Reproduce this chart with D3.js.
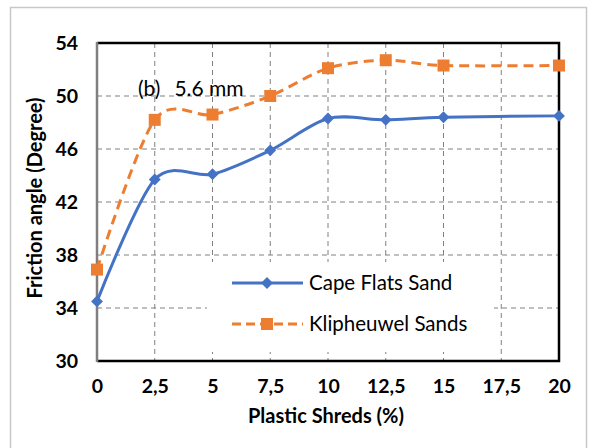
<!DOCTYPE html>
<html>
<head>
<meta charset="utf-8">
<script src="https://cdn.jsdelivr.net/npm/d3@7"></script>
<style>
  html,body{margin:0;padding:0;background:#fff;}
  svg{display:block;font-family:Lato,"Open Sans",sans-serif;}
</style>
</head>
<body>
<div id="chart"></div>
<script>
// data
var xCats = [0, 2.5, 5, 7.5, 10, 12.5, 15, 20];
var capeFlats = [34.5, 43.7, 44.1, 45.9, 48.3, 48.2, 48.4, 48.5];
var klipheuwel = [36.9, 48.2, 48.6, 50.0, 52.1, 52.7, 52.3, 52.3];
var xTicks = [0, 2.5, 5, 7.5, 10, 12.5, 15, 17.5, 20];
var yTicks = [30, 34, 38, 42, 46, 50, 54];
var seriesNames = ["Cape Flats Sand", "Klipheuwel Sands"];

var W = 590, H = 448;
var m = {top: 43, right: 31, bottom: 87, left: 97};
var width = W - m.left - m.right, height = H - m.top - m.bottom;
var FONT = "Lato, 'Open Sans', sans-serif";

var svg = d3.select("#chart").append("svg").attr("width", W).attr("height", H);

// outer chart frame
svg.append("rect").attr("x", 10.5).attr("y", 7.5).attr("width", 576).attr("height", 450)
  .attr("fill", "none").attr("stroke", "#c8c8c8").attr("stroke-width", 1.5);

var g = svg.append("g").attr("transform", "translate(" + m.left + "," + m.top + ")");

var x = d3.scaleLinear().domain([0, 20]).range([0, width]);
var y = d3.scaleLinear().domain([30, 54]).range([height, 0]);

// gridlines
g.append("g").selectAll("line").data(xTicks.slice(1, -1)).enter().append("line")
  .attr("x1", function(d){return x(d);}).attr("x2", function(d){return x(d);})
  .attr("y1", 0).attr("y2", height)
  .attr("stroke", "#808080").attr("stroke-width", 1).attr("stroke-dasharray", "5,4");
g.append("g").selectAll("line").data(yTicks.slice(1, -1)).enter().append("line")
  .attr("x1", 0).attr("x2", width)
  .attr("y1", function(d){return y(d);}).attr("y2", function(d){return y(d);})
  .attr("stroke", "#808080").attr("stroke-width", 1).attr("stroke-dasharray", "5,4");

// plot border (top/right/bottom black, left gray)
g.append("path").attr("d", "M0,0H" + width + "V" + height + "H0")
  .attr("fill", "none").attr("stroke", "#000").attr("stroke-width", 2.5);
g.append("line").attr("x1", 0).attr("x2", 0).attr("y1", -1).attr("y2", height + 1)
  .attr("stroke", "#7f7f7f").attr("stroke-width", 2.5);

// axes labels
var xAxis = d3.axisBottom(x).tickValues(xTicks).tickSize(0).tickPadding(18)
  .tickFormat(function(d){return String(d).replace(".", ",");});
var gx = g.append("g").attr("transform", "translate(0," + height + ")").call(xAxis)
  .attr("font-family", FONT).attr("font-size", 19.5).attr("font-weight", "bold");
gx.select(".domain").remove();
gx.selectAll("text").attr("fill", "#000").attr("dy", "0.71em");

var yAxis = d3.axisLeft(y).tickValues(yTicks).tickSize(0).tickPadding(19);
var gy = g.append("g").call(yAxis)
  .attr("font-family", FONT).attr("font-size", 19.5).attr("font-weight", "bold");
gy.select(".domain").remove();
gy.selectAll("text").attr("fill", "#000");

g.append("text").attr("x", width / 2 - 2).attr("y", height + 62)
  .attr("font-size", 20).attr("font-weight", "bold").attr("fill", "#000")
  .attr("text-anchor", "middle").text("Plastic Shreds (%)");
g.append("text")
  .attr("transform", "translate(-55," + (height / 2 - 4) + ") rotate(-90)")
  .attr("font-size", 20).attr("font-weight", "bold").attr("fill", "#000")
  .attr("text-anchor", "middle").text("Friction angle (Degree)");

// annotation
var ann = g.append("text").attr("x", 41).attr("y", 53).attr("font-size", 21).attr("fill", "#000");
ann.append("tspan").text("(b)");
ann.append("tspan").attr("dx", 14).text("5.6 mm");

var blue = "#4472C4", orange = "#ED7D31";
var line = d3.line().x(function(d){return x(d[0]);}).y(function(d){return y(d[1]);})
  .curve(d3.curveCardinal.tension(0.1));

function pts(vals){ return xCats.map(function(c, i){return [c, vals[i]];}); }

function diamond(sel, cx, cy){
  sel.append("path").attr("d", d3.symbol().type(d3.symbolDiamond2).size(90)())
    .attr("transform", "translate(" + cx + "," + cy + ")").attr("fill", blue);
}
function square(sel, cx, cy){
  sel.append("rect").attr("x", cx - 6).attr("y", cy - 6).attr("width", 12).attr("height", 12)
    .attr("fill", orange);
}

// Klipheuwel (dashed orange)
g.append("path").datum(pts(klipheuwel)).attr("d", line).attr("fill", "none")
  .attr("stroke", orange).attr("stroke-width", 3).attr("stroke-dasharray", "10,6");
pts(klipheuwel).forEach(function(p){ square(g, x(p[0]), y(p[1])); });

// Cape Flats (solid blue)
g.append("path").datum(pts(capeFlats)).attr("d", line).attr("fill", "none")
  .attr("stroke", blue).attr("stroke-width", 3);
pts(capeFlats).forEach(function(p){ diamond(g, x(p[0]), y(p[1])); });

// legend box
var lg = g.append("g").attr("transform", "translate(110,219)");
lg.append("rect").attr("x", 0).attr("y", 0).attr("width", 287).attr("height", 90).attr("fill", "#fff");
lg.append("line").attr("x1", 25).attr("x2", 96).attr("y1", 21).attr("y2", 21)
  .attr("stroke", blue).attr("stroke-width", 3);
diamond(lg, 60, 21);
lg.append("text").attr("x", 102).attr("y", 28).attr("font-size", 20.5).attr("fill", "#000").text(seriesNames[0]);
lg.append("line").attr("x1", 25).attr("x2", 96).attr("y1", 62).attr("y2", 62)
  .attr("stroke", orange).attr("stroke-width", 3).attr("stroke-dasharray", "9,5");
square(lg, 60, 62);
lg.append("text").attr("x", 102).attr("y", 69).attr("font-size", 20.5).attr("fill", "#000").text(seriesNames[1]);
</script>
</body>
</html>
